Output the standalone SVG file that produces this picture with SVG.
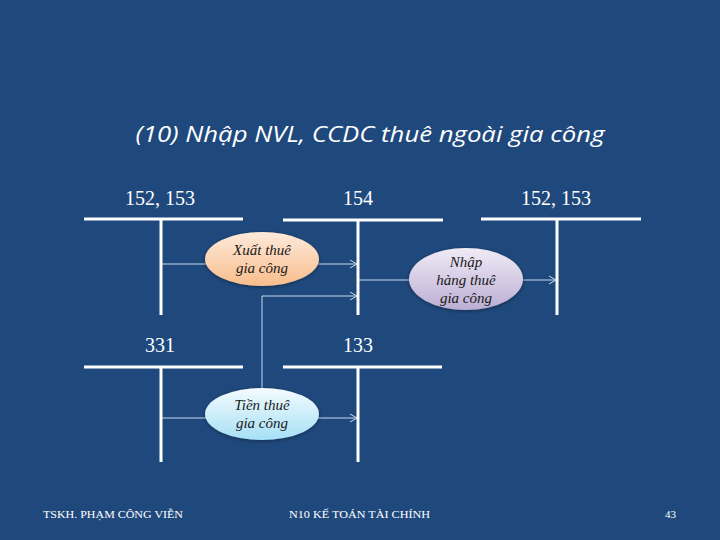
<svg xmlns="http://www.w3.org/2000/svg" width="720" height="540" viewBox="0 0 720 540">
<defs>
<linearGradient id="gO" x1="0" y1="0" x2="0" y2="1"><stop offset="0" stop-color="#fdeadb"/><stop offset="1" stop-color="#f9bd8c"/></linearGradient>
<linearGradient id="gP" x1="0" y1="0" x2="0" y2="1"><stop offset="0" stop-color="#f0ebf6"/><stop offset="1" stop-color="#bcaed4"/></linearGradient>
<linearGradient id="gC" x1="0" y1="0" x2="0" y2="1"><stop offset="0" stop-color="#f4fbfe"/><stop offset="1" stop-color="#a6e0f6"/></linearGradient>
<marker id="ah" markerWidth="10" markerHeight="10" refX="8" refY="5" orient="auto" markerUnits="userSpaceOnUse"><path d="M1,1 L8,5 L1,9" fill="none" stroke="#c9d9ee" stroke-width="1"/></marker>
<filter id="glow" x="-20%" y="-20%" width="140%" height="140%"><feGaussianBlur in="SourceAlpha" stdDeviation="2"/><feOffset dy="1"/><feComponentTransfer><feFuncA type="linear" slope="0.4"/></feComponentTransfer><feMerge><feMergeNode/><feMergeNode in="SourceGraphic"/></feMerge></filter>
</defs>
<style>
.acc{stroke:#ffffff;stroke-width:3;fill:none}
.lbl{font-family:"Liberation Serif",serif;font-size:20px;fill:#ffffff;text-anchor:middle}
.con{stroke:#c9d9ee;stroke-width:1;fill:none}
.et{font-family:"Liberation Serif",serif;font-style:italic;font-size:15px;fill:#1a1a1a;text-anchor:middle}
.ft{font-family:"Liberation Serif",serif;font-size:11px;fill:#ffffff}
</style>
<rect width="720" height="540" fill="#1f497d"/>
<text x="370" y="142" font-family="Open Sans, sans-serif" font-style="italic" font-size="21" fill="#ffffff" text-anchor="middle" textLength="469" lengthAdjust="spacingAndGlyphs">(10) Nhập NVL, CCDC thuê ngoài gia công</text>

<g id="connectors">
<line class="con" x1="161" y1="264" x2="357" y2="264" marker-end="url(#ah)"/>
<line class="con" x1="358" y1="280" x2="556" y2="280" marker-end="url(#ah)"/>
<polyline class="con" points="262,390 262,296 357,296" marker-end="url(#ah)"/>
<line class="con" x1="161" y1="418" x2="357" y2="418" marker-end="url(#ah)"/>
</g>

<g id="acc-152-153-left">
<text class="lbl" x="160" y="205">152, 153</text>
<line class="acc" x1="84" y1="219" x2="243" y2="219"/>
<line class="acc" x1="161" y1="219" x2="161" y2="315"/>
</g>
<g id="acc-154">
<text class="lbl" x="358" y="205">154</text>
<line class="acc" x1="283" y1="220" x2="443" y2="220"/>
<line class="acc" x1="358" y1="220" x2="358" y2="315"/>
</g>
<g id="acc-152-153-right">
<text class="lbl" x="556" y="205">152, 153</text>
<line class="acc" x1="481" y1="219" x2="641" y2="219"/>
<line class="acc" x1="557" y1="219" x2="557" y2="315"/>
</g>
<g id="acc-331">
<text class="lbl" x="160" y="352">331</text>
<line class="acc" x1="84" y1="367" x2="243" y2="367"/>
<line class="acc" x1="161" y1="367" x2="161" y2="462"/>
</g>
<g id="acc-133">
<text class="lbl" x="358" y="352">133</text>
<line class="acc" x1="283" y1="367" x2="442" y2="367"/>
<line class="acc" x1="358" y1="367" x2="358" y2="462"/>
</g>

<g id="node-xuat">
<ellipse cx="262" cy="259" rx="57" ry="27" fill="url(#gO)" filter="url(#glow)"/>
<text class="et" x="262" y="255">Xuất thuê</text>
<text class="et" x="262" y="273">gia công</text>
</g>
<g id="node-nhap">
<ellipse cx="466" cy="279" rx="57" ry="31" fill="url(#gP)" filter="url(#glow)"/>
<text class="et" x="466" y="267">Nhập</text>
<text class="et" x="466" y="285">hàng thuê</text>
<text class="et" x="466" y="303">gia công</text>
</g>
<g id="node-tien">
<ellipse cx="262" cy="414" rx="57" ry="26" fill="url(#gC)" filter="url(#glow)"/>
<text class="et" x="262" y="410">Tiền thuê</text>
<text class="et" x="262" y="428">gia công</text>
</g>

<text class="ft" x="43" y="518" textLength="140" lengthAdjust="spacingAndGlyphs">TSKH. PHẠM CÔNG VIỄN</text>
<text class="ft" x="289" y="518" textLength="141" lengthAdjust="spacingAndGlyphs">N10 KẾ TOÁN TÀI CHÍNH</text>
<text class="ft" x="665" y="518" textLength="11" lengthAdjust="spacingAndGlyphs">43</text>
</svg>
